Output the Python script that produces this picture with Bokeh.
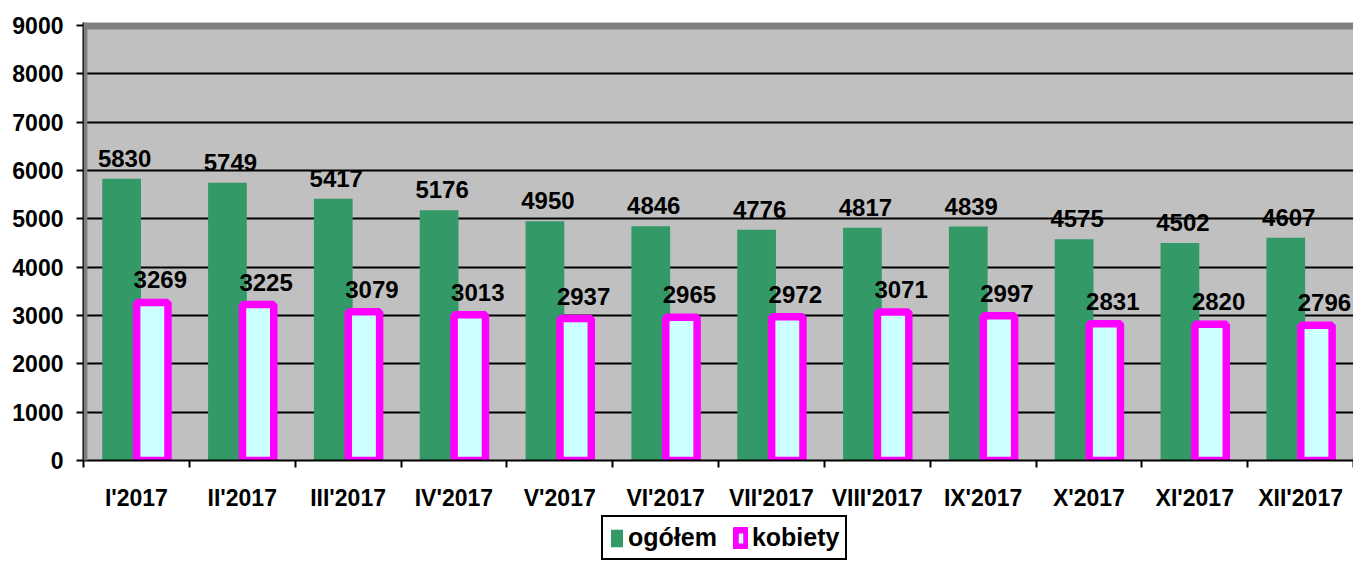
from bokeh.plotting import figure
from bokeh.layouts import column
from bokeh.models import (ColumnDataSource, Range1d, FixedTicker, LabelSet,
                          Legend, LegendItem, BoxAnnotation)
from bokeh.core.properties import value
from bokeh.embed import file_html
from bokeh.resources import INLINE

months = ["I'2017", "II'2017", "III'2017", "IV'2017", "V'2017", "VI'2017",
          "VII'2017", "VIII'2017", "IX'2017", "X'2017", "XI'2017", "XII'2017"]
ogolem = [5830, 5749, 5417, 5176, 4950, 4846, 4776, 4817, 4839, 4575, 4502, 4607]
kobiety = [3269, 3225, 3079, 3013, 2937, 2965, 2972, 3071, 2997, 2831, 2820, 2796]
y_ticks = [0, 1000, 2000, 3000, 4000, 5000, 6000, 7000, 8000, 9000]
series_names = ["ogółem", "kobiety"]

FONT = "Liberation Sans"
GREEN = "#339966"
CYAN = "#CCFFFF"
MAGENTA = "#FF00FF"
n = len(months)
idx = list(range(n))

src = ColumnDataSource(dict(
    month=months,
    pos_o=[i + 0.36 for i in idx],
    pos_k=[i + 0.65 for i in idx],
    ogolem=ogolem,
    kobiety=kobiety,
    lab_o=[str(v) for v in ogolem],
    lab_k=[str(v) for v in kobiety],
))

W = 1353
H_MAIN = 514
H_LEG = 46

p = figure(width=W, height=H_MAIN, x_range=Range1d(0, n), y_range=Range1d(0, 9062),
           output_backend="svg", toolbar_location=None,
           min_border_top=22, min_border_left=83, min_border_right=0,
           min_border_bottom=H_MAIN - 460,
           background_fill_color="#C0C0C0", border_fill_color="white",
           outline_line_color=None)

# grid
p.xgrid.visible = False
p.ygrid.ticker = FixedTicker(ticks=y_ticks)
p.ygrid.grid_line_color = "black"
p.ygrid.grid_line_width = 2

# 3D-like wall edges
p.add_layout(BoxAnnotation(bottom=8917, fill_color="#808080", fill_alpha=1, line_color=None))
p.add_layout(BoxAnnotation(right=0.037, fill_color="#808080", fill_alpha=1, line_color=None))

# y axis
p.yaxis.ticker = FixedTicker(ticks=y_ticks)
p.yaxis.axis_line_color = "black"
p.yaxis.axis_line_width = 2
p.yaxis.major_tick_in = 0
p.yaxis.major_tick_out = 7
p.yaxis.major_tick_line_width = 2
p.yaxis.minor_tick_line_color = None
p.yaxis.major_label_standoff = 13
p.yaxis.major_label_text_font = FONT
p.yaxis.major_label_text_font_style = "bold"
p.yaxis.major_label_text_font_size = "23px"
p.yaxis.major_label_text_color = "black"

# x axis: labels at category centres, ticks at boundaries
p.xaxis.ticker = FixedTicker(ticks=[i + 0.5 for i in idx], minor_ticks=list(range(n + 1)))
p.xaxis.major_label_overrides = {i + 0.5: m for i, m in zip(idx, months)}
p.xaxis.axis_line_color = "black"
p.xaxis.axis_line_width = 2
p.xaxis.major_tick_line_color = None
p.xaxis.major_tick_in = 0
p.xaxis.major_tick_out = 0
p.xaxis.minor_tick_in = 0
p.xaxis.minor_tick_out = 7
p.xaxis.minor_tick_line_color = "black"
p.xaxis.minor_tick_line_width = 2
p.xaxis.major_label_standoff = 17
p.xaxis.major_label_text_font = FONT
p.xaxis.major_label_text_font_style = "bold"
p.xaxis.major_label_text_font_size = "23px"
p.xaxis.major_label_text_color = "black"

# bars
p.vbar(x="pos_o", top="ogolem", bottom=0, width=0.366, source=src,
       fill_color=GREEN, line_color=None)
p.vbar(x="pos_k", top="kobiety", bottom=0, width=0.296, source=src,
       fill_color=CYAN, line_color=MAGENTA, line_width=7.5)

# value labels
p.add_layout(LabelSet(x="pos_o", y="ogolem", text="lab_o", source=src,
                      x_offset=3, y_offset=12, text_align="center",
                      text_baseline="alphabetic", text_font=value(FONT),
                      text_font_style="bold", text_font_size="24px", text_color="black"))
p.add_layout(LabelSet(x="pos_k", y="kobiety", text="lab_k", source=src,
                      x_offset=8, y_offset=14, text_align="center",
                      text_baseline="alphabetic", text_font=value(FONT),
                      text_font_style="bold", text_font_size="24px", text_color="black"))

# legend strip (separate figure below the chart); the sample glyphs sit
# hidden behind the legend's own white box
lg = figure(width=W, height=H_LEG, x_range=Range1d(0, 1), y_range=Range1d(0, 1),
            output_backend="svg", toolbar_location=None,
            x_axis_location=None, y_axis_location=None,
            min_border=0, outline_line_color=None, border_fill_color="white",
            background_fill_color="white")
lg.grid.visible = False
dummy = ColumnDataSource(dict(x=[0.5], top=[0.5], bottom=[0.45]))
lr_o = lg.vbar(x="x", top="top", bottom="bottom", width=0.002, source=dummy,
               fill_color=GREEN, line_color=None)
lr_k = lg.vbar(x="x", top="top", bottom="bottom", width=0.002, source=dummy,
               fill_color=CYAN, line_color=MAGENTA, line_width=7.5)
legend = Legend(items=[LegendItem(label=series_names[0], renderers=[lr_o]),
                       LegendItem(label=series_names[1], renderers=[lr_k])],
                location=(518, 0), orientation="horizontal",
                label_text_font=FONT, label_text_font_style="bold",
                label_text_font_size="25px", label_text_color="black",
                border_line_color="black", border_line_width=2, border_line_alpha=1,
                background_fill_color="white", background_fill_alpha=1,
                padding=6, spacing=16, label_standoff=4,
                glyph_width=15, glyph_height=22, margin=0)
lg.add_layout(legend)

layout = column(p, lg, spacing=0)
open("out.html", "w").write(file_html(layout, INLINE))
